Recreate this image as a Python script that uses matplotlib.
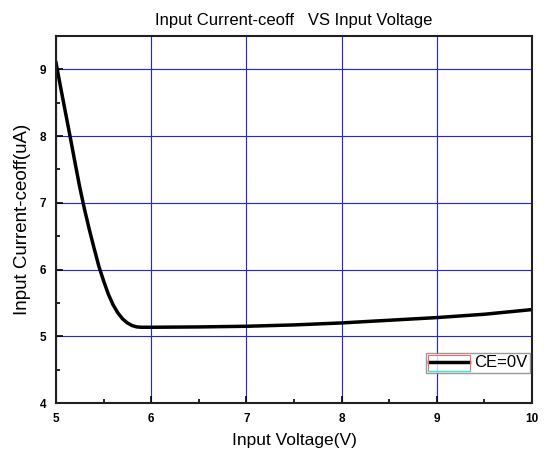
import numpy as np
import matplotlib.pyplot as plt
from matplotlib.ticker import MultipleLocator
from matplotlib.patches import Rectangle

plt.rcParams['font.family'] = ['Liberation Sans', 'DejaVu Sans']

# Values
voltage = [5.0, 5.05, 5.1, 5.15, 5.2, 5.25, 5.3, 5.35, 5.4, 5.45, 5.5, 5.55,
           5.6, 5.65, 5.7, 5.75, 5.8, 5.85, 5.9, 6.0, 6.5, 7.0, 7.5, 8.0,
           8.5, 9.0, 9.5, 10.0]
current = [9.1, 8.72, 8.35, 7.98, 7.6, 7.23, 6.9, 6.6, 6.32, 6.05, 5.83, 5.63,
           5.47, 5.35, 5.26, 5.2, 5.16, 5.14, 5.135, 5.135, 5.14, 5.15, 5.17, 5.2,
           5.24, 5.28, 5.33, 5.4]

fig = plt.figure(figsize=(5.46, 4.58), dpi=100)
ax = fig.add_axes([56 / 546, 55 / 458, 476 / 546, 367 / 458])

ax.plot(voltage, current, color='black', lw=2.5, label='CE=0V')

ax.set_xlim(5, 10)
ax.set_ylim(4, 9.5)
ax.xaxis.set_major_locator(MultipleLocator(1))
ax.xaxis.set_minor_locator(MultipleLocator(0.5))
ax.yaxis.set_major_locator(MultipleLocator(1))
ax.yaxis.set_minor_locator(MultipleLocator(0.5))
ax.tick_params(which='both', direction='in', labelsize=8.5, width=1.2)
ax.tick_params(which='major', length=5, pad=7)
ax.tick_params(which='minor', length=3)
for lab in ax.get_xticklabels() + ax.get_yticklabels():
    lab.set_fontweight('semibold')
ax.grid(True, which='major', color='#2020ff', lw=0.8)
for s in ax.spines.values():
    s.set_linewidth(1.5)
    s.set_color('#202020')

ax.set_xlabel('Input Voltage(V)', fontsize=12.5, labelpad=6)
ax.set_ylabel('Input Current-ceoff(uA)', fontsize=13.5, labelpad=6)
ax.set_title('Input Current-ceoff   VS Input Voltage', fontsize=12, pad=8)

leg = ax.legend(loc='lower right', bbox_to_anchor=(0.995, 0.082), fontsize=12,
                fancybox=False, edgecolor='gray', handlelength=2.4,
                handletextpad=0.3, borderpad=0.15, borderaxespad=0)
leg.get_frame().set_linewidth(1.0)

# red/cyan box around the legend handle, like the original export
fig.canvas.draw()
lb = leg.get_window_extent()
hb = leg.legend_handles[0].get_window_extent()
inv = fig.transFigure.inverted()
(x0, y0), (x1, y1) = inv.transform([(hb.x0 - 1, lb.y0 + 2), (hb.x1 + 1, lb.y1 - 2)])
fig.patches.append(Rectangle((x0, y0), x1 - x0, y1 - y0, transform=fig.transFigure,
                             fill=False, edgecolor='#ff6060', lw=0.8, zorder=10))
fig.lines.append(plt.Line2D([x0, x1], [y0, y0], transform=fig.transFigure,
                            color='#40e0e0', lw=1.0, zorder=11))

fig.savefig('out.png', dpi=100)
